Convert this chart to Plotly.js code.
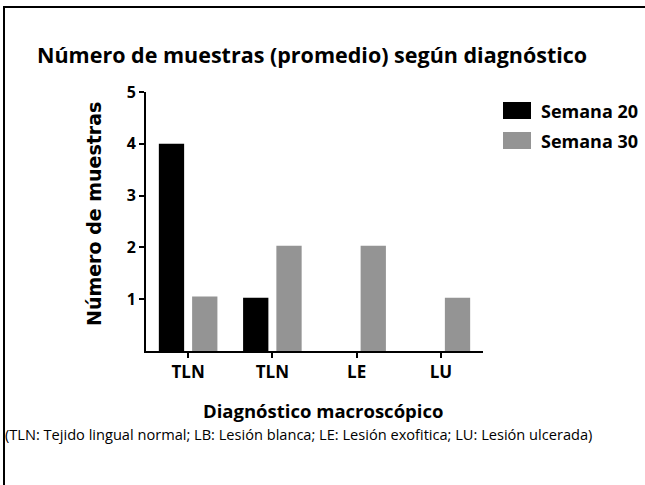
<!DOCTYPE html>
<html>
<head>
<meta charset="utf-8">
<script src="https://cdn.plot.ly/plotly-3.0.1.min.js"></script>
<style>
html,body{margin:0;padding:0;background:#fff;}
#wrap{position:relative;width:645px;height:485px;}
#chart{width:645px;height:485px;}
#frameTop{position:absolute;left:3px;top:6px;width:642px;height:2px;background:#000;pointer-events:none;}
#frameLeft{position:absolute;left:3px;top:6px;width:2px;height:479px;background:#000;pointer-events:none;}
</style>
</head>
<body>
<div id="wrap">
<div id="chart"></div>
<div id="frameTop"></div>
<div id="frameLeft"></div>
</div>
<script>
// ---- data ----
const categories = ['TLN', 'TLN', 'LE', 'LU'];
const seriesNames = ['Semana 20', 'Semana 30'];
const semana20 = [4.0, 1.03, 0, 0];
const semana30 = [1.05, 2.03, 2.03, 1.03];
const yTicks = [1, 2, 3, 4, 5];
const titleText = 'Número de muestras (promedio) según diagnóstico';
const yTitle = 'Número de muestras';
const xTitle = 'Diagnóstico macroscópico';
const footnote = '(TLN: Tejido lingual normal; LB: Lesión blanca; LE: Lesión exofitica; LU: Lesión ulcerada)';

// ---- layout helpers ----
const W = 645, H = 485;
const M = {l: 146, r: 162, t: 92, b: 134};
const PW = W - M.l - M.r, PH = H - M.t - M.b;
const px = x => (x - M.l) / PW;
const py = y => (H - M.b - y) / PH;

const colors = ['#000000', '#949494'];
const FONT = '"Open Sans", sans-serif';
const idx = categories.map((_, i) => i);

const traces = [semana20, semana30].map((vals, k) => ({
  type: 'bar',
  x: idx,
  y: vals,
  name: seriesNames[k],
  marker: {color: colors[k], line: {width: 0}},
  showlegend: false,
  hoverinfo: 'skip'
}));

const legendY = [110.5, 140.5];
const shapes = [];
const annotations = [];
seriesNames.forEach((n, k) => {
  shapes.push({type: 'rect', xref: 'paper', yref: 'paper',
    x0: px(503), x1: px(531), y0: py(legendY[k] - 8.5), y1: py(legendY[k] + 8.5),
    fillcolor: colors[k], line: {width: 0}});
  annotations.push({xref: 'paper', yref: 'paper', x: px(539), y: py(legendY[k]),
    xanchor: 'left', yanchor: 'middle', showarrow: false, text: '<b>' + n + '</b>',
    font: {family: FONT, size: 18, color: '#000'}});
});
annotations.push({xref: 'paper', yref: 'paper', x: px(323), y: py(410),
  xanchor: 'center', yanchor: 'middle', showarrow: false, text: '<b>' + xTitle + '</b>',
  font: {family: FONT, size: 18.5, color: '#000'}, borderpad: 0});
annotations.push({xref: 'paper', yref: 'paper', x: px(4), y: py(434),
  xanchor: 'left', yanchor: 'middle', showarrow: false, text: footnote,
  font: {family: FONT, size: 14.6, color: '#000'}, borderpad: 0});
annotations.push({xref: 'paper', yref: 'paper', x: px(94), y: py(214),
  xanchor: 'center', yanchor: 'middle', showarrow: false, textangle: -90,
  text: '<b>' + yTitle + '</b>',
  font: {family: '"DejaVu Sans", sans-serif', size: 19, color: '#000'}});

const layout = {
  width: W, height: H,
  margin: M,
  paper_bgcolor: '#fff', plot_bgcolor: '#fff',
  showlegend: false,
  barmode: 'group', bargap: 0.21, bargroupgap: 0.24,
  title: {text: '<b>' + titleText + '</b>', xref: 'container', yref: 'container',
    x: 37 / W, xanchor: 'left', y: 1 - 55 / H, yanchor: 'middle',
    font: {family: FONT, size: 21.5, color: '#000'}},
  xaxis: {
    range: [-0.5, 3.5], tickvals: idx, ticktext: categories,
    showgrid: false, zeroline: false, showline: true, linecolor: '#000', linewidth: 2,
    ticks: 'outside', ticklen: 5, tickwidth: 2, tickcolor: '#000',
    tickfont: {family: FONT, size: 17, color: '#000', weight: 'bold'},
    fixedrange: true
  },
  yaxis: {
    range: [0, 5], tickvals: yTicks, ticktext: yTicks.map(String),
    showgrid: false, zeroline: false, showline: true, linecolor: '#000', linewidth: 2,
    ticks: 'outside', ticklen: 5, tickwidth: 2, tickcolor: '#000',
    tickfont: {family: FONT, size: 16, color: '#000', weight: 'bold'},
    fixedrange: true
  },
  shapes: shapes,
  annotations: annotations
};

Plotly.newPlot('chart', traces, layout, {displayModeBar: false, staticPlot: true});
</script>
</body>
</html>
